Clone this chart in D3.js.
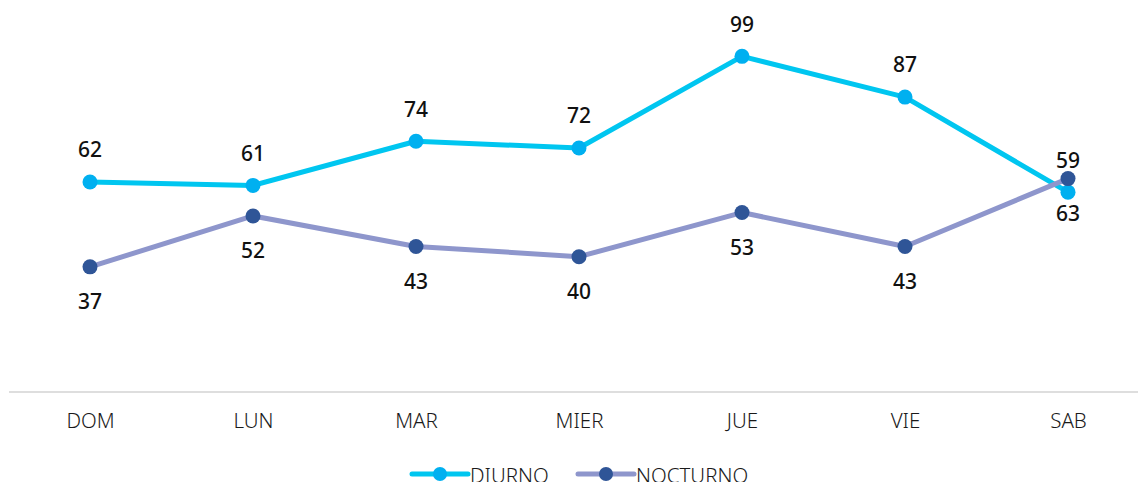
<!DOCTYPE html>
<html>
<head>
<meta charset="utf-8">
<script src="https://cdn.jsdelivr.net/npm/d3@7"></script>
<style>
  body { margin: 0; background: #fff; }
  svg { display: block; font-family: "Noto Sans", sans-serif; }
</style>
</head>
<body>
<svg id="chart"></svg>
<script>
// days of the week
var days = ['DOM', 'LUN', 'MAR', 'MIER', 'JUE', 'VIE', 'SAB'];
var diurno = [62, 61, 74, 72, 99, 87, 59];
var nocturno = [37, 52, 43, 40, 53, 43, 63];
var seriesNames = ['DIURNO', 'NOCTURNO'];

var width = 1138, height = 482;

var svg = d3.select('#chart')
  .attr('width', width)
  .attr('height', height);

var x = d3.scalePoint()
  .domain(days)
  .range([8.5, 1149.5])
  .padding(0.5);

var y = d3.scaleLinear()
  .domain([0, 110])
  .range([392.5, 19]);

// axis baseline
svg.append('line')
  .attr('x1', 9).attr('x2', width)
  .attr('y1', 392).attr('y2', 392)
  .attr('stroke', '#dedede')
  .attr('stroke-width', 2);

// category labels
var xAxis = d3.axisBottom(x).tickSize(0).tickPadding(0);
var gx = svg.append('g')
  .attr('transform', 'translate(0,421)')
  .call(xAxis);
gx.select('.domain').remove();
gx.selectAll('text')
  .attr('dy', '0.35em')
  .attr('y', 0)
  .attr('font-size', 20.5)
  .attr('font-weight', 300)
  .attr('fill', '#1a1a1a')
  .style('font-family', '"Noto Sans", sans-serif');

var series = [
  { name: seriesNames[0], values: diurno, line: '#00c6f0', dot: '#00b0f0', above: true },
  { name: seriesNames[1], values: nocturno, line: '#8e96cc', dot: '#2f5597', above: false }
];

var line = d3.line()
  .x(function(d, i) { return x(days[i]); })
  .y(function(d) { return y(d); });

series.forEach(function(s) {
  var g = svg.append('g');
  g.append('path')
    .datum(s.values)
    .attr('d', line)
    .attr('fill', 'none')
    .attr('stroke', s.line)
    .attr('stroke-width', 5)
    .attr('stroke-linejoin', 'round');

  g.selectAll('circle')
    .data(s.values)
    .enter().append('circle')
    .attr('cx', function(d, i) { return x(days[i]); })
    .attr('cy', function(d) { return y(d); })
    .attr('r', 7.5)
    .attr('fill', s.dot);

  g.selectAll('text')
    .data(s.values)
    .enter().append('text')
    .attr('x', function(d, i) { return x(days[i]); })
    .attr('y', function(d) { return s.above ? y(d) - 32 : y(d) + 35; })
    .attr('dy', '0.35em')
    .attr('text-anchor', 'middle')
    .attr('font-size', 21)
    .attr('font-weight', 500)
    .attr('fill', '#111')
    .text(function(d) { return d; });
});

// legend
var legendX = [412, 578];
series.forEach(function(s, i) {
  var lg = svg.append('g').attr('transform', 'translate(' + legendX[i] + ',474)');
  lg.append('line')
    .attr('x1', 0).attr('x2', 56)
    .attr('stroke', s.line)
    .attr('stroke-width', 5)
    .attr('stroke-linecap', 'round');
  lg.append('circle')
    .attr('cx', 28)
    .attr('r', 7)
    .attr('fill', s.dot);
  lg.append('text')
    .attr('x', 58)
    .attr('y', 2)
    .attr('dy', '0.35em')
    .attr('font-size', 20.5)
    .attr('font-weight', 300)
    .attr('fill', '#1a1a1a')
    .text(s.name);
});
</script>
</body>
</html>
